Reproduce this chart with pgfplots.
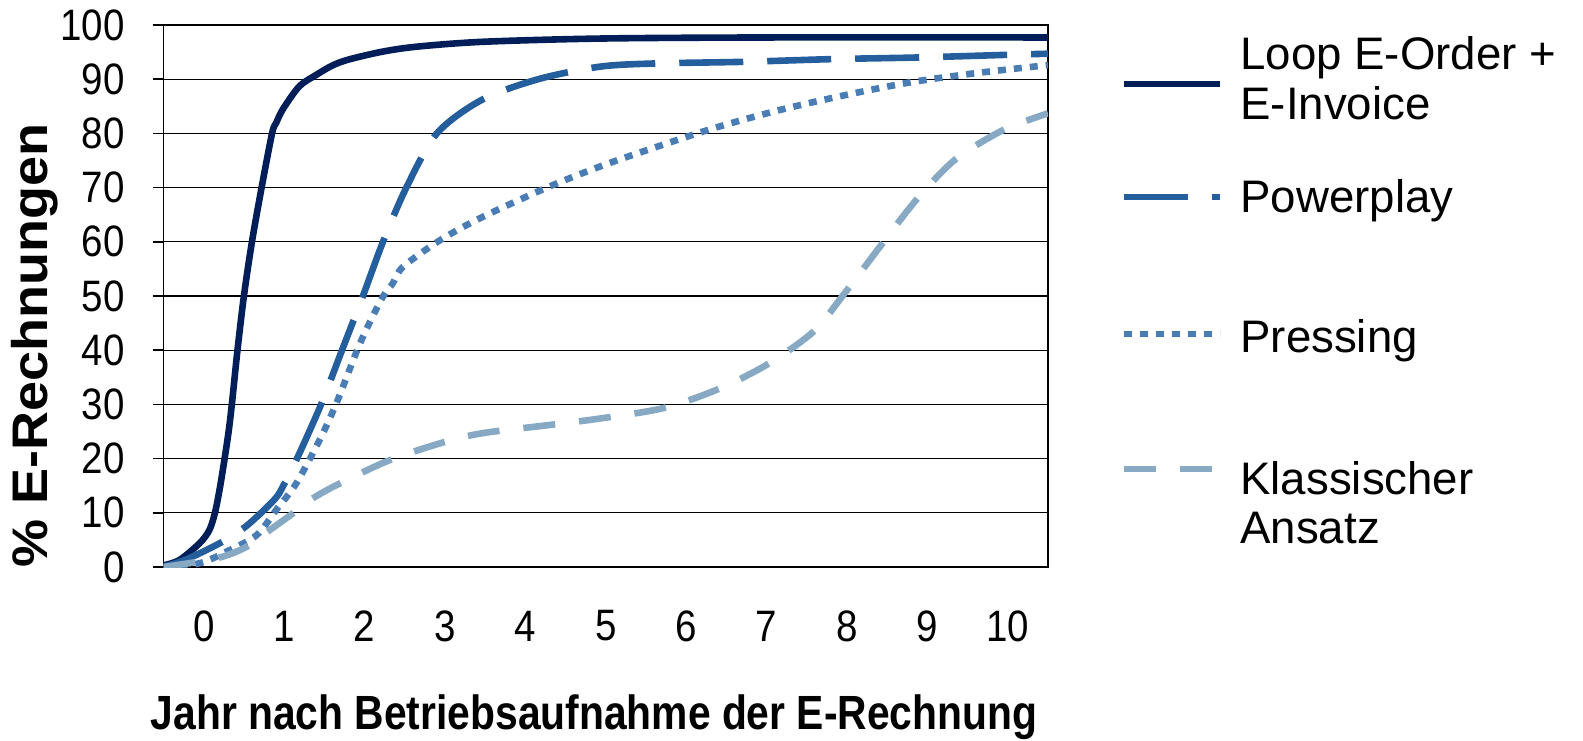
\documentclass[border=0pt]{standalone}
\usepackage{fontspec}
\setmainfont{Liberation Sans}
\usepackage{graphicx}
\usepackage{pgfplots}
\pgfplotsset{compat=1.18}
\definecolor{cLoop}{HTML}{021E58}
\definecolor{cPower}{HTML}{245E9C}
\definecolor{cPress}{HTML}{4A7DB4}
\definecolor{cKlass}{HTML}{87A9C4}
\newcommand\sx[1]{\scalebox{0.875}[1]{#1}}
\pgfplotsset{
  frame/.style={at={(81.75pt,86.5pt)}, anchor=south west,
    scale only axis, width=442.25pt, height=271pt},
  leg/.style={legend cell align=left,
    legend image code/.code={\draw[##1] (0pt,0pt) -- (48pt,0pt);},
    legend style={draw=none, fill=none, at={(axis description cs:1.0826,#1)}, anchor=west,
      inner sep=0pt, outer sep=0pt, column sep=0pt,
      nodes={inner sep=0pt, outer sep=0pt}}},
  legax/.style={frame, hide axis, xmin=0, xmax=1, ymin=0, ymax=1, leg=#1},
}
\begin{document}
\begin{tikzpicture}
\path[use as bounding box] (0,0) rectangle (791.5pt,370pt);
\begin{axis}[
  frame,
  xmin=-0.5, xmax=10.5, ymin=0, ymax=100,
  xtick={0,...,10}, ytick={0,10,...,100},
  xticklabels={\sx{0},\sx{1},\sx{2},\sx{3},\sx{4},\sx{5},\sx{6},\sx{7},\sx{8},\sx{9},\sx{10}},
  yticklabels={\sx{0},\sx{10},\sx{20},\sx{30},\sx{40},\sx{50},\sx{60},\sx{70},\sx{80},\sx{90},\sx{100}},
  axis line style={black, line width=0.8pt},
  ymajorgrids, major grid style={black, line width=0.6pt},
  ytick align=outside, ytick pos=left, major tick length=5.5pt,
  xtick style={draw=none},
  ytick style={black, line width=0.8pt},
  tick label style={font=\fontsize{22}{26}\selectfont},
  yticklabel style={anchor=east, inner sep=0pt, xshift=-13.75pt},
  xticklabel style={anchor=center, inner sep=0pt, yshift=-29.5pt},
  xlabel={\scalebox{0.85}[1]{Jahr nach Betriebsaufnahme der E-Rechnung}},
  xlabel style={at={(axis description cs:0.4867,-0.2765)}, anchor=center, inner sep=0pt, font=\bfseries\fontsize{24}{28}\selectfont},
  ylabel={\scalebox{1.08}[1]{\% E-Rechnungen}},
  ylabel style={at={(axis description cs:-0.1453,0.4096)}, anchor=center, inner sep=0pt, font=\bfseries\fontsize{25}{29}\selectfont},
  leg=0.8911,
  every axis plot/.append style={line width=3.3pt, smooth},
]
\addplot[cLoop] coordinates {
(-0.5,0.3) (-0.3,1.3) (-0.05,4.4) (0.07,6.8) (0.14,10) (0.2,14.5) (0.26,20) (0.31,25)
(0.35,30) (0.42,40) (0.50,50) (0.60,60) (0.72,70) (0.85,80) (0.90,81.9) (0.99,84.6)
(1.19,88.7) (1.40,90.8) (1.61,92.6) (1.82,93.7) (2.23,95.1) (2.65,96.0) (3.47,96.9)
(4.93,97.5) (7,97.7) (10.5,97.7)};
\addlegendentry{}
\addplot[cPower, dash pattern=on 32pt off 12pt] coordinates {
(-0.5,0) (-0.2,1.5) (0.2,4.4) (0.49,7.1) (0.7,9.8) (0.9,12.8) (0.99,15) (1.16,20) (1.46,30)
(1.72,40) (1.98,50) (2.23,60) (2.52,70) (2.9,80) (3.46,86.2) (4.16,90) (4.92,92.3)
(5.6,92.9) (6.7,93.2) (7.8,93.7) (8.86,94.0) (10,94.5) (10.5,94.7)};
\addplot[cPress, dash pattern=on 4pt off 4pt] coordinates {
(-0.5,0) (-0.05,0.7) (0.32,3.1) (0.66,5.9) (0.90,10.5) (1.15,15.4) (1.44,23.4)
(1.65,30.2) (1.90,39.7) (2.06,45) (2.23,49.9) (2.35,52.3) (2.48,55.4) (2.94,60.3)
(3.47,64.6) (4.30,70.2) (4.93,73.9) (5.51,76.9) (6.33,80.9) (7.16,84.3) (7.99,87.1)
(8.82,89.5) (9.65,91.2) (10.5,92.6)};
\addplot[cKlass, dash pattern=on 16pt off 12pt] coordinates {
(-0.5,0) (0.16,1.6) (0.53,3.7) (0.82,6.8) (1.11,9.9) (1.36,12.7) (1.69,15.4)
(2.31,19.7) (2.98,23.0) (3.47,24.7) (4.30,26.2) (4.93,27.4) (5.71,29.3) (6.38,32.7)
(7.0,37.3) (7.58,43.4) (7.97,50.5) (8.41,59.1) (8.86,67.7) (9.34,75.1) (9.94,80.6)
(10.5,83.7)};
\end{axis}
\begin{axis}[legax=0.6827]
\addlegendimage{cPower, line width=3.3pt, dash pattern=on 32pt off 12pt}
\addlegendentry{}
\end{axis}
\begin{axis}[legax=0.4299]
\addlegendimage{cPress, line width=3.3pt, dash pattern=on 4pt off 4pt}
\addlegendentry{}
\end{axis}
\begin{axis}[legax=0.1808]
\addlegendimage{cKlass, line width=3.3pt, dash pattern=on 16pt off 12pt}
\addlegendentry{}
\end{axis}
\begin{scope}[every node/.style={anchor=base west, inner sep=0pt, font=\fontsize{22.8}{25}\selectfont}]
\node at (620pt,335pt) {Loop E-Order +};
\node at (620pt,310pt) {E-Invoice};
\node at (620pt,263.65pt) {Powerplay};
\node at (620pt,193.65pt) {Pressing};
\node at (620pt,122.85pt) {Klassischer};
\node at (620pt,98.35pt) {Ansatz};
\end{scope}
\end{tikzpicture}
\end{document}
